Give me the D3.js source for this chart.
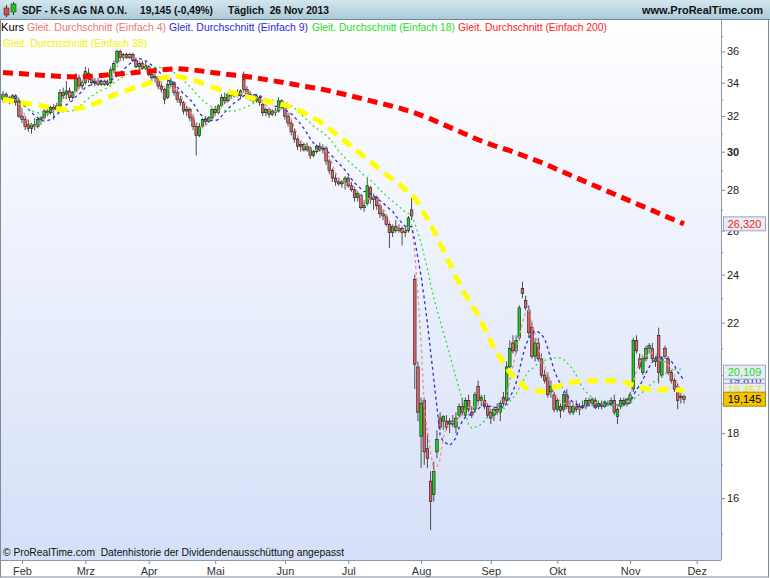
<!DOCTYPE html>
<html>
<head>
<meta charset="utf-8">
<script src="https://cdn.jsdelivr.net/npm/d3@7"></script>
<style>
  body { margin: 0; background: #fff; }
  svg { display: block; font-family: "Liberation Sans", Arial, sans-serif; }
</style>
</head>
<body>
<div id="chart"></div>
<script>
// K+S daily candles, 24 Jan 2013 - 26 Nov 2013
var openP = [33.0,33.3,33.0,32.9,33.2,32.9,32.0,31.8,31.5,31.3,
  31.5,31.4,31.8,31.9,32.3,32.2,32.5,32.4,32.6,33.4,
  33.3,33.5,33.1,33.5,34.3,33.8,34.0,34.6,34.2,34.0,
  34.1,33.9,34.1,33.9,34.0,34.8,35.3,36.0,35.6,35.8,
  35.6,35.8,35.4,35.0,35.2,34.9,35.0,34.5,34.3,34.3,
  33.8,33.6,33.1,33.9,34.0,33.4,33.0,32.8,32.3,32.4,
  31.9,31.4,30.9,31.4,31.8,31.7,31.9,32.4,32.2,32.6,
  33.1,32.9,33.3,33.2,33.4,33.2,34.2,33.6,33.3,33.1,
  32.9,33.1,32.7,32.2,32.4,32.1,32.3,32.3,32.9,32.6,
  32.0,31.6,31.1,30.7,30.3,30.4,30.1,30.2,29.8,30.0,
  30.3,30.1,30.2,29.5,29.0,28.6,28.4,28.3,28.4,28.6,
  28.2,28.0,27.6,27.7,27.1,27.3,28.1,27.5,27.6,27.2,
  26.8,26.7,26.3,25.9,26.2,26.0,26.1,25.9,26.0,27.0,
  23.8,20.3,17.9,19.1,17.5,16.5,16.1,17.4,18.5,18.4,
  18.4,18.3,18.4,18.2,18.6,18.9,18.6,19.1,18.7,18.8,
  19.6,19.1,
  19.1,18.9,18.7,18.6,18.8,18.7,19.2,19.1,20.3,21.2,
  20.9,21.4,23.4,22.9,22.5,21.8,20.7,21.2,20.6,20.0,
  19.9,19.4,19.3,18.8,18.9,18.8,19.3,18.9,18.7,18.9,
  18.8,18.9,18.9,19.1,19.0,19.1,18.9,19.0,18.9,19.0,
  18.95,19.1,18.55,18.9,19.1,19.0,19.1,19.5,21.3,20.6,
  20.1,20.6,21.0,21.0,20.5,21.5,20.0,21.0,20.6,20.1,
  19.8,19.6,19.2,19.25];

var highP = [33.5,33.4,33.2,33.3,33.3,33.1,32.4,32.0,31.8,31.6,
  31.9,31.9,32.0,32.4,32.6,32.6,32.7,32.8,33.6,33.7,
  34.1,33.7,33.5,34.6,34.5,34.2,35.0,34.9,34.4,34.3,
  34.3,34.2,34.2,34.2,35.0,35.4,36.1,36.1,35.9,35.9,
  35.9,35.9,35.6,35.3,35.4,35.3,35.1,34.7,34.6,34.4,
  34.0,33.7,34.2,34.3,34.1,33.6,33.2,32.9,32.6,32.5,
  32.1,31.6,31.6,31.9,32.0,32.0,32.5,32.6,32.7,33.3,
  33.4,33.4,33.5,33.5,33.6,33.6,34.7,33.8,33.5,33.3,
  33.3,33.2,32.8,32.5,32.5,32.4,32.5,33.1,33.0,32.7,
  32.2,31.8,31.3,30.8,30.6,30.5,30.5,30.3,30.1,30.4,
  30.5,30.4,30.3,29.6,29.1,28.8,28.6,28.5,28.7,28.7,
  28.4,28.1,27.9,27.8,27.4,28.6,28.2,27.8,27.7,27.3,
  27.0,26.8,26.4,26.3,26.5,26.3,26.2,26.2,26.7,27.6,
  24.0,20.5,19.2,19.2,18.0,16.8,17.1,18.1,18.7,18.6,
  18.6,18.5,18.6,18.7,19.0,19.2,19.2,19.3,18.9,19.4,
  19.8,19.3,
  19.3,19.0,18.8,18.9,19.0,19.1,19.4,20.5,21.3,21.5,
  21.5,22.7,23.7,23.1,22.7,22.0,21.4,21.4,20.8,20.2,
  20.1,19.8,19.4,19.2,19.0,19.4,19.5,19.1,19.0,19.1,
  19.0,19.1,19.2,19.2,19.2,19.2,19.1,19.1,19.1,19.1,
  19.2,19.3,18.9,19.2,19.2,19.2,19.4,21.4,21.5,20.8,
  20.7,21.1,21.2,21.2,20.7,21.8,20.7,21.1,20.7,20.2,
  19.9,19.7,19.35,19.3];

var lowP = [32.8,32.9,32.7,32.8,32.6,31.9,31.6,31.2,31.1,31.0,
  31.2,31.3,31.5,31.8,32.0,32.1,31.8,32.3,32.5,33.0,
  33.0,32.9,33.0,33.4,33.6,33.6,33.9,34.0,33.8,33.8,
  33.8,33.8,33.8,33.8,33.9,34.6,35.2,35.4,35.4,35.5,
  35.5,35.3,34.9,34.7,34.8,34.8,34.4,34.1,34.0,33.6,
  33.4,32.7,33.0,33.7,33.2,32.8,32.6,32.1,32.0,31.7,
  31.2,29.8,30.8,31.3,31.5,31.6,31.8,32.0,32.1,32.5,
  32.7,32.8,33.0,33.1,33.1,33.0,33.4,33.2,32.9,32.8,
  32.8,32.6,32.0,32.0,31.9,32.0,32.0,32.2,32.4,31.8,
  31.4,30.9,30.5,30.1,30.0,30.0,30.0,29.6,29.7,29.9,
  30.0,29.9,29.3,28.8,28.4,28.2,28.2,28.1,28.0,28.1,
  27.9,27.4,27.4,27.0,26.9,27.2,27.3,27.0,27.0,26.6,
  26.5,26.2,25.2,25.7,25.9,25.9,25.3,25.7,25.9,26.5,
  19.5,18.4,16.9,17.0,16.9,15.1,15.9,17.2,18.1,18.1,
  18.1,18.0,18.2,18.0,18.5,18.6,18.5,18.7,18.5,18.7,
  19.0,18.9,
  18.8,18.5,18.3,18.4,18.6,18.4,18.9,19.0,20.2,20.8,
  20.8,21.3,23.0,22.5,21.4,20.6,20.5,20.5,19.9,19.7,
  19.2,19.2,18.7,18.7,18.5,18.7,18.8,18.6,18.6,18.7,
  18.6,18.8,18.8,18.9,18.9,18.8,18.8,18.8,18.85,18.9,
  18.9,18.6,18.3,18.8,18.9,18.9,19.0,19.4,20.8,20.2,
  20.0,20.5,20.8,20.5,20.3,19.7,19.9,20.6,20.0,19.7,
  19.4,18.8,19.0,19.0];

var closeP = [33.3,33.0,32.9,33.2,32.8,32.0,31.8,31.4,31.3,31.5,
  31.4,31.8,31.9,32.3,32.2,32.5,32.4,32.6,33.4,33.2,
  33.5,33.1,33.4,34.3,33.8,34.0,34.7,34.2,34.0,34.1,
  33.9,34.1,33.9,34.0,34.8,35.2,36.0,35.6,35.8,35.6,
  35.8,35.4,35.0,35.2,34.9,35.1,34.5,34.3,34.4,33.8,
  33.6,33.0,33.9,34.1,33.4,33.0,32.8,32.3,32.4,31.9,
  31.4,30.9,31.4,31.8,31.7,31.9,32.4,32.2,32.6,33.1,
  32.9,33.3,33.2,33.4,33.2,33.5,33.6,33.3,33.1,32.9,
  33.2,32.8,32.2,32.4,32.1,32.3,32.2,32.9,32.6,32.0,
  31.6,31.1,30.7,30.3,30.4,30.1,30.3,29.8,30.0,30.3,
  30.1,30.2,29.5,29.0,28.6,28.4,28.3,28.4,28.6,28.2,
  28.0,27.6,27.8,27.1,27.2,28.2,27.5,27.6,27.2,26.8,
  26.7,26.3,25.9,26.2,26.0,26.1,25.9,26.0,26.6,26.7,
  20.4,18.7,19.0,17.4,17.2,15.9,16.8,17.8,18.2,18.55,
  18.2,18.4,18.3,18.5,18.9,18.7,19.1,18.8,18.6,19.3,
  19.1,19.2,
  18.9,18.6,18.5,18.8,18.7,19.0,19.0,20.3,21.0,20.9,
  21.3,22.6,23.2,22.6,21.6,20.7,21.2,20.6,20.0,19.8,
  19.3,19.6,18.8,19.1,18.75,19.3,18.9,18.7,18.9,18.8,
  18.9,18.85,19.1,19.0,19.15,18.85,19.0,18.9,19.05,18.95,
  19.1,18.7,18.8,19.1,19.0,19.15,19.3,21.3,20.9,20.3,
  20.6,21.0,21.1,20.6,20.6,20.1,20.6,20.7,20.1,19.8,
  19.5,19.1,19.24,19.145];

// long averages, one value every 5 trading days (last = final day)
var ma38Read = [33.0,32.8,32.7,32.5,32.36,32.5,32.8,33.25,33.6,33.9,
  34.3,34.4,34.2,33.8,33.5,33.25,33.0,32.8,32.6,32.2,
  31.7,31.0,30.3,29.6,28.9,28.3,27.6,26.3,24.8,23.35,
  22.3,21.0,20.1,19.55,19.4,19.6,19.75,19.8,19.8,19.8,
  19.6,19.45,19.5,19.457];
var ma200Read = [34.64,34.57,34.5,34.43,34.37,34.37,34.43,34.52,34.6,34.7,
  34.8,34.88,34.8,34.67,34.54,34.43,34.3,34.13,33.97,33.78,
  33.63,33.42,33.19,32.95,32.72,32.48,32.19,31.84,31.44,31.05,
  30.66,30.33,30.06,29.74,29.42,29.05,28.69,28.33,27.98,27.64,
  27.3,26.97,26.63,26.32];

// last values printed in the right-hand boxes
var boxValues = [26.320, 19.81, 19.457, 20.109, 19.145];
var boxColors = ["#ff2020", "#2a2ad8", "#e8e800", "#22dd22", "#000"];

var monthLabels = ["Feb","Mrz","Apr","Mai","Jun","Jul","Aug","Sep","Okt","Nov","Dez"];
var majorTicks = [16,18,20,22,24,26,28,30,32,34,36];
var hiddenTickLabels = [20]; // covered by the value boxes in the picture
var minorTicks = [15,17,19,21,23,25,27,29,31,33,35,37];

// legend entries
var legendText = ["Kurs", "Gleit. Durchschnitt (Einfach 4)", "Gleit. Durchschnitt (Einfach 9)",
  "Gleit. Durchschnitt (Einfach 18)", "Gleit. Durchschnitt (Einfach 200)", "Gleit. Durchschnitt (Einfach 38)"];
var legendColor = ["#000", "#e87878", "#2a2ad8", "#22e022", "#ff1a1a", "#f2f200"];

// Xetra trading calendar, used only to find where each month starts
var holidays = ["2013-03-29","2013-04-01","2013-05-01"];
var tradingDays = [];
for (var d = new Date(2013, 0, 24); d <= new Date(2013, 11, 10); d.setDate(d.getDate() + 1)) {
  var wd = d.getDay();
  var key = d3.timeFormat("%Y-%m-%d")(d);
  if (wd !== 0 && wd !== 6 && holidays.indexOf(key) < 0) tradingDays.push(new Date(d));
}
var monthStarts = [];
tradingDays.forEach(function(t, i) {
  if (i > 0 && t.getMonth() !== tradingDays[i - 1].getMonth()) monthStarts.push(i);
});

var svgWidth = 770, svgHeight = 578;
var plot = {left: 1, top: 20, right: 721, bottom: 560};

var svg = d3.select("#chart").append("svg")
  .attr("width", svgWidth)
  .attr("height", svgHeight);

var defs = svg.append("defs");
var g1 = defs.append("linearGradient").attr("id", "titleGrad").attr("x1", 0).attr("y1", 0).attr("x2", 0).attr("y2", 1);
g1.append("stop").attr("offset", "0%").attr("stop-color", "#d3e6ee");
g1.append("stop").attr("offset", "100%").attr("stop-color", "#a9c9d7");
var g2 = defs.append("linearGradient").attr("id", "plotGrad").attr("x1", 0).attr("y1", 0).attr("x2", 0).attr("y2", 1);
g2.append("stop").attr("offset", "0%").attr("stop-color", "#ffffff");
g2.append("stop").attr("offset", "100%").attr("stop-color", "#d5dff8");
defs.append("clipPath").attr("id", "plotClip").append("rect")
  .attr("x", plot.left).attr("y", plot.top)
  .attr("width", plot.right - plot.left).attr("height", plot.bottom - plot.top);

// backgrounds
svg.append("rect").attr("width", svgWidth).attr("height", svgHeight).attr("fill", "#fff");
svg.append("rect").attr("x", plot.left).attr("y", plot.top)
  .attr("width", plot.right - plot.left).attr("height", plot.bottom - plot.top)
  .attr("fill", "url(#plotGrad)");

// scales
var xScale = d3.scaleLinear().domain([0, 227]).range([3, 722]);
var yScale = d3.scaleLog().domain([14.3, 38.1]).range([plot.bottom, plot.top]);

// candles
var chartGroup = svg.append("g").attr("clip-path", "url(#plotClip)");
var candles = chartGroup.selectAll("g.candle")
  .data(closeP.map(function(c, i) {
    return {i: i, o: openP[i], h: highP[i], l: lowP[i], c: c};
  }))
  .enter().append("g");

candles.append("line")
  .attr("x1", function(d) { return xScale(d.i); })
  .attr("x2", function(d) { return xScale(d.i); })
  .attr("y1", function(d) { return yScale(d.h); })
  .attr("y2", function(d) { return yScale(d.l); })
  .attr("stroke", "#4d4d4d")
  .attr("stroke-width", 1);

candles.append("rect")
  .attr("x", function(d) { return xScale(d.i) - 1.3; })
  .attr("width", 2.6)
  .attr("y", function(d) { return yScale(Math.max(d.o, d.c)); })
  .attr("height", function(d) { return Math.max(1, Math.abs(yScale(d.o) - yScale(d.c))); })
  .attr("fill", function(d) { return d.c >= d.o ? "#22cc22" : "#dc6464"; })
  .attr("stroke", "#1a1a1a")
  .attr("stroke-width", 0.6);

// short moving averages from the closes
function movingAvg(n) {
  return closeP.map(function(c, i) {
    return d3.mean(closeP.slice(Math.max(0, i - n + 1), i + 1));
  });
}
var lineGen = d3.line()
  .x(function(d) { return xScale(d[0]); })
  .y(function(d) { return yScale(d[1]); });

function drawAvg(values, color, width, dash) {
  chartGroup.append("path")
    .datum(values.map(function(v, i) { return [i, v]; }))
    .attr("d", lineGen)
    .attr("fill", "none")
    .attr("stroke", color)
    .attr("stroke-width", width)
    .attr("stroke-dasharray", dash);
}
drawAvg(movingAvg(4), "#f09090", 1.3, "3,3");
drawAvg(movingAvg(9), "#3030d8", 1.3, "3,3");
drawAvg(movingAvg(18), "#28e028", 1.2, "2,3");

// long averages from the read samples
function sampled(values) {
  return values.map(function(v, k) {
    return [k < values.length - 1 ? k * 5 : closeP.length - 1, v];
  });
}
chartGroup.append("path")
  .datum(sampled(ma38Read))
  .attr("d", lineGen)
  .attr("fill", "none")
  .attr("stroke", "#ffff00")
  .attr("stroke-width", 5)
  .attr("stroke-dasharray", "11,7");
chartGroup.append("path")
  .datum(sampled(ma200Read))
  .attr("d", lineGen)
  .attr("fill", "none")
  .attr("stroke", "#ff0000")
  .attr("stroke-width", 5)
  .attr("stroke-dasharray", "10,6");

// right axis
var rightAxis = d3.axisRight(yScale).tickValues(majorTicks).tickSize(4)
  .tickFormat(function(v) { return hiddenTickLabels.indexOf(v) < 0 ? d3.format("d")(v) : ""; });
var axG = svg.append("g").attr("transform", "translate(" + plot.right + ",0)").call(rightAxis);
axG.select(".domain").remove();
axG.selectAll("line").attr("stroke", "#7a8a99");
axG.selectAll("text")
  .attr("x", 6)
  .attr("fill", "#222")
  .style("font-size", "11px")
  .style("font-family", "Liberation Sans, Arial, sans-serif")
  .style("font-weight", function(d) { return d === 30 ? "bold" : "normal"; });
var minorAxis = d3.axisRight(yScale).tickValues(minorTicks).tickSize(2).tickFormat("");
var mG = svg.append("g").attr("transform", "translate(" + plot.right + ",0)").call(minorAxis);
mG.select(".domain").remove();
mG.selectAll("line").attr("stroke", "#7a8a99");

// bottom axis
var bottomAxis = d3.axisBottom(xScale)
  .tickValues(monthStarts.slice(0, monthLabels.length))
  .tickSize(4)
  .tickFormat(function(d, i) { return monthLabels[i]; });
var bG = svg.append("g").attr("transform", "translate(0," + plot.bottom + ")").call(bottomAxis);
bG.select(".domain").remove();
bG.selectAll("line").attr("stroke", "#7a8a99");
bG.selectAll("text")
  .attr("fill", "#333")
  .style("font-size", "11px")
  .style("font-family", "Liberation Sans, Arial, sans-serif");

// frame lines
svg.append("line").attr("x1", plot.right + 0.5).attr("x2", plot.right + 0.5)
  .attr("y1", plot.top).attr("y2", plot.bottom).attr("stroke", "#8d9aa6");
svg.append("line").attr("x1", 0).attr("x2", plot.right).attr("y1", plot.bottom + 0.5).attr("y2", plot.bottom + 0.5)
  .attr("stroke", "#8d9aa6");
svg.append("rect").attr("x", 0.5).attr("y", 0.5).attr("width", svgWidth - 2).attr("height", svgHeight - 1.5)
  .attr("fill", "none").attr("stroke", "#7f8c96");

// value boxes on the right axis
boxValues.forEach(function(v, k) {
  var yc = yScale(v);
  var last = k === boxValues.length - 1;
  svg.append("rect")
    .attr("x", 723.5).attr("y", yc - 7)
    .attr("width", 42).attr("height", 14)
    .attr("fill", last ? "#f4c300" : "#e6ebf5")
    .attr("stroke", last ? "#a88a10" : "#a0a8bc")
    .attr("stroke-width", 1);
  svg.append("text")
    .attr("x", 744.5).attr("y", yc + 4)
    .attr("text-anchor", "middle")
    .attr("fill", boxColors[k])
    .style("font-size", "11px")
    .text(d3.format(".3f")(v).replace(".", ","));
});

// title bar
svg.append("rect").attr("x", 0).attr("y", 0).attr("width", svgWidth).attr("height", 20).attr("fill", "url(#titleGrad)");
svg.append("line").attr("x1", 0).attr("x2", svgWidth).attr("y1", 19.5).attr("y2", 19.5).attr("stroke", "#6f8796");
var icon = svg.append("g");
icon.append("line").attr("x1", 6.5).attr("x2", 6.5).attr("y1", 5).attr("y2", 17).attr("stroke", "#333");
icon.append("rect").attr("x", 4).attr("y", 8).attr("width", 5).attr("height", 7).attr("fill", "#e04848").attr("stroke", "#333").attr("stroke-width", 0.6);
icon.append("line").attr("x1", 13.5).attr("x2", 13.5).attr("y1", 2).attr("y2", 15).attr("stroke", "#333");
icon.append("rect").attr("x", 11).attr("y", 4).attr("width", 5).attr("height", 8).attr("fill", "#22c022").attr("stroke", "#333").attr("stroke-width", 0.6);

function titleText(x, w, txt) {
  svg.append("text")
    .attr("x", x).attr("y", 14)
    .attr("textLength", w).attr("lengthAdjust", "spacingAndGlyphs")
    .style("font-size", "11.5px").style("font-weight", "bold")
    .attr("fill", "#111")
    .style("white-space", "pre")
    .text(txt);
}
titleText(22, 105, "SDF - K+S AG NA O.N.");
titleText(140, 73, "19,145 (-0,49%)");
titleText(228, 101, "Täglich  26 Nov 2013");
titleText(642, 121, "www.ProRealTime.com");

// legend
var legendPos = [[1, 31, 23], [27, 31, 139], [169, 31, 139], [312, 31, 143], [458, 31, 149], [3, 47, 144]];
legendText.forEach(function(t, k) {
  svg.append("text")
    .attr("x", legendPos[k][0]).attr("y", legendPos[k][1])
    .attr("textLength", legendPos[k][2]).attr("lengthAdjust", "spacingAndGlyphs")
    .style("font-size", "11px")
    .attr("fill", legendColor[k])
    .text(t);
});

// footer note
svg.append("text").attr("x", 3).attr("y", 556).style("font-size", "11px").attr("fill", "#111")
  .attr("textLength", 341).attr("lengthAdjust", "spacingAndGlyphs")
  .style("white-space", "pre")
  .text("© ProRealTime.com  Datenhistorie der Dividendenausschüttung angepasst");
</script>
</body>
</html>
